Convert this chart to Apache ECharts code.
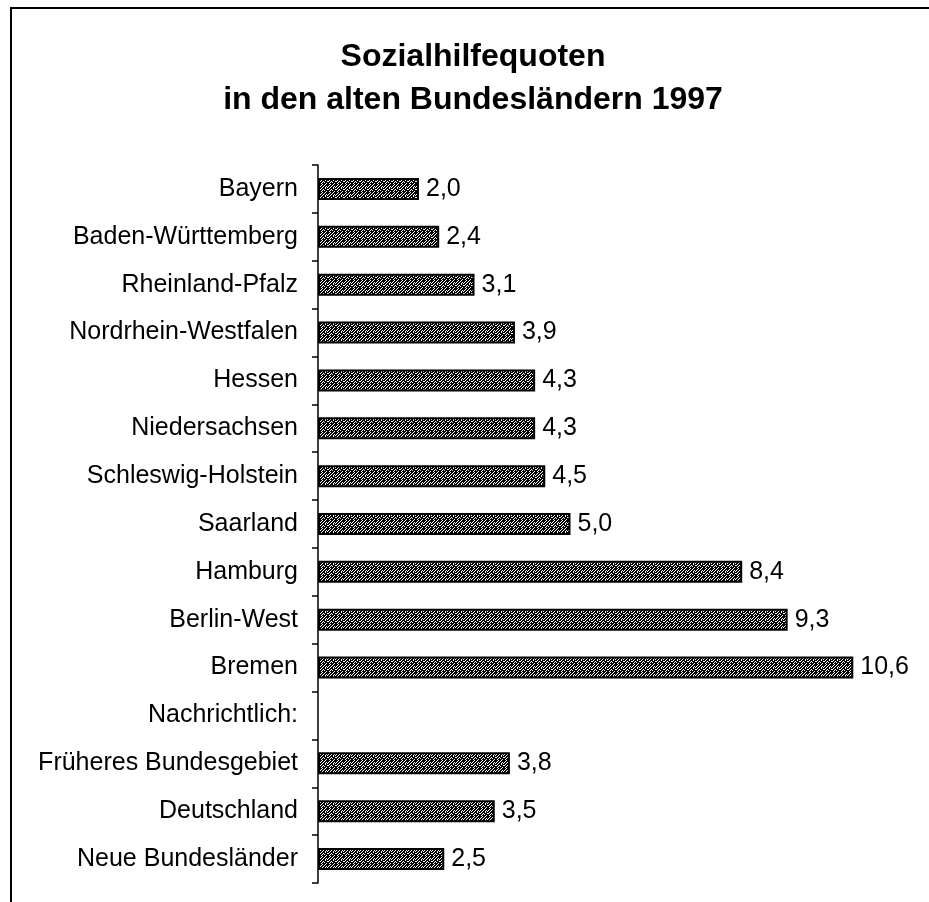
<!DOCTYPE html>
<html>
<head>
<meta charset="utf-8">
<title>Sozialhilfequoten 1997</title>
<script src="https://cdn.jsdelivr.net/npm/echarts@6/dist/echarts.min.js"></script>
<style>
  html, body { margin: 0; padding: 0; background: #fff; }
  #chart { width: 929px; height: 902px; }
</style>
</head>
<body>
<div id="chart"></div>
<script>
// Bundesländer (oben nach unten), Leerzeile "Nachrichtlich:" ohne Balken
const laender = [
  'Bayern', 'Baden-Württemberg', 'Rheinland-Pfalz', 'Nordrhein-Westfalen',
  'Hessen', 'Niedersachsen', 'Schleswig-Holstein', 'Saarland', 'Hamburg',
  'Berlin-West', 'Bremen', 'Nachrichtlich:', 'Früheres Bundesgebiet',
  'Deutschland', 'Neue Bundesländer'
];
const quoten = [2.0, 2.4, 3.1, 3.9, 4.3, 4.3, 4.5, 5.0, 8.4, 9.3, 10.6, null, 3.8, 3.5, 2.5];

// Raster wie im Druck (fest, nicht zufällig)
const rasterBits = [
  '11011011',
  '10110111',
  '01101101',
  '11011010',
  '10111011',
  '01101110',
  '11010111',
  '10111101'
];
function makeRaster() {
  const n = rasterBits.length;
  const c = document.createElement('canvas');
  c.width = n; c.height = n;
  const ctx = c.getContext('2d');
  ctx.fillStyle = '#fff';
  ctx.fillRect(0, 0, n, n);
  ctx.fillStyle = '#000';
  rasterBits.forEach((row, y) => {
    for (let x = 0; x < row.length; x++) {
      if (row[x] === '1') ctx.fillRect(x, y, 1, 1);
    }
  });
  return c;
}

const chart = echarts.init(document.getElementById('chart'));

const option = {
  backgroundColor: '#fff',
  animation: false,
  title: {
    text: 'Sozialhilfequoten\nin den alten Bundesländern 1997',
    left: 468,
    textAlign: 'center',
    top: 31,
    textStyle: {
      fontFamily: 'Liberation Sans, Arial, sans-serif',
      fontWeight: 'bold',
      fontSize: 32,
      lineHeight: 43,
      color: '#000'
    }
  },
  grid: {
    left: 318,
    right: 5,
    top: 165,
    bottom: 19,
    containLabel: false
  },
  xAxis: {
    type: 'value',
    min: 0,
    max: 12,
    show: false
  },
  yAxis: {
    type: 'category',
    inverse: true,
    data: laender,
    axisLine: { show: true, lineStyle: { color: '#000', width: 1.5 } },
    axisTick: { show: true, length: 6, lineStyle: { color: '#000', width: 1.5 } },
    axisLabel: {
      margin: 20,
      color: '#000',
      fontSize: 25,
      fontFamily: 'Liberation Sans, Arial, sans-serif'
    },
    splitLine: { show: false }
  },
  series: [
    {
      type: 'bar',
      data: quoten,
      barWidth: 22,
      itemStyle: {
        color: { image: makeRaster(), repeat: 'repeat' },
        borderColor: '#000',
        borderWidth: 2
      },
      label: {
        show: true,
        position: 'right',
        distance: 7,
        color: '#000',
        fontSize: 25,
        fontFamily: 'Liberation Sans, Arial, sans-serif',
        formatter: p => p.value == null ? '' : p.value.toFixed(1).replace('.', ',')
      }
    }
  ],
  graphic: [
    {
      type: 'polyline',
      shape: { points: [[11, 902], [11, 8], [929, 8]] },
      style: { stroke: '#000', lineWidth: 2, fill: null },
      silent: true
    }
  ]
};

chart.setOption(option);
</script>
</body>
</html>
